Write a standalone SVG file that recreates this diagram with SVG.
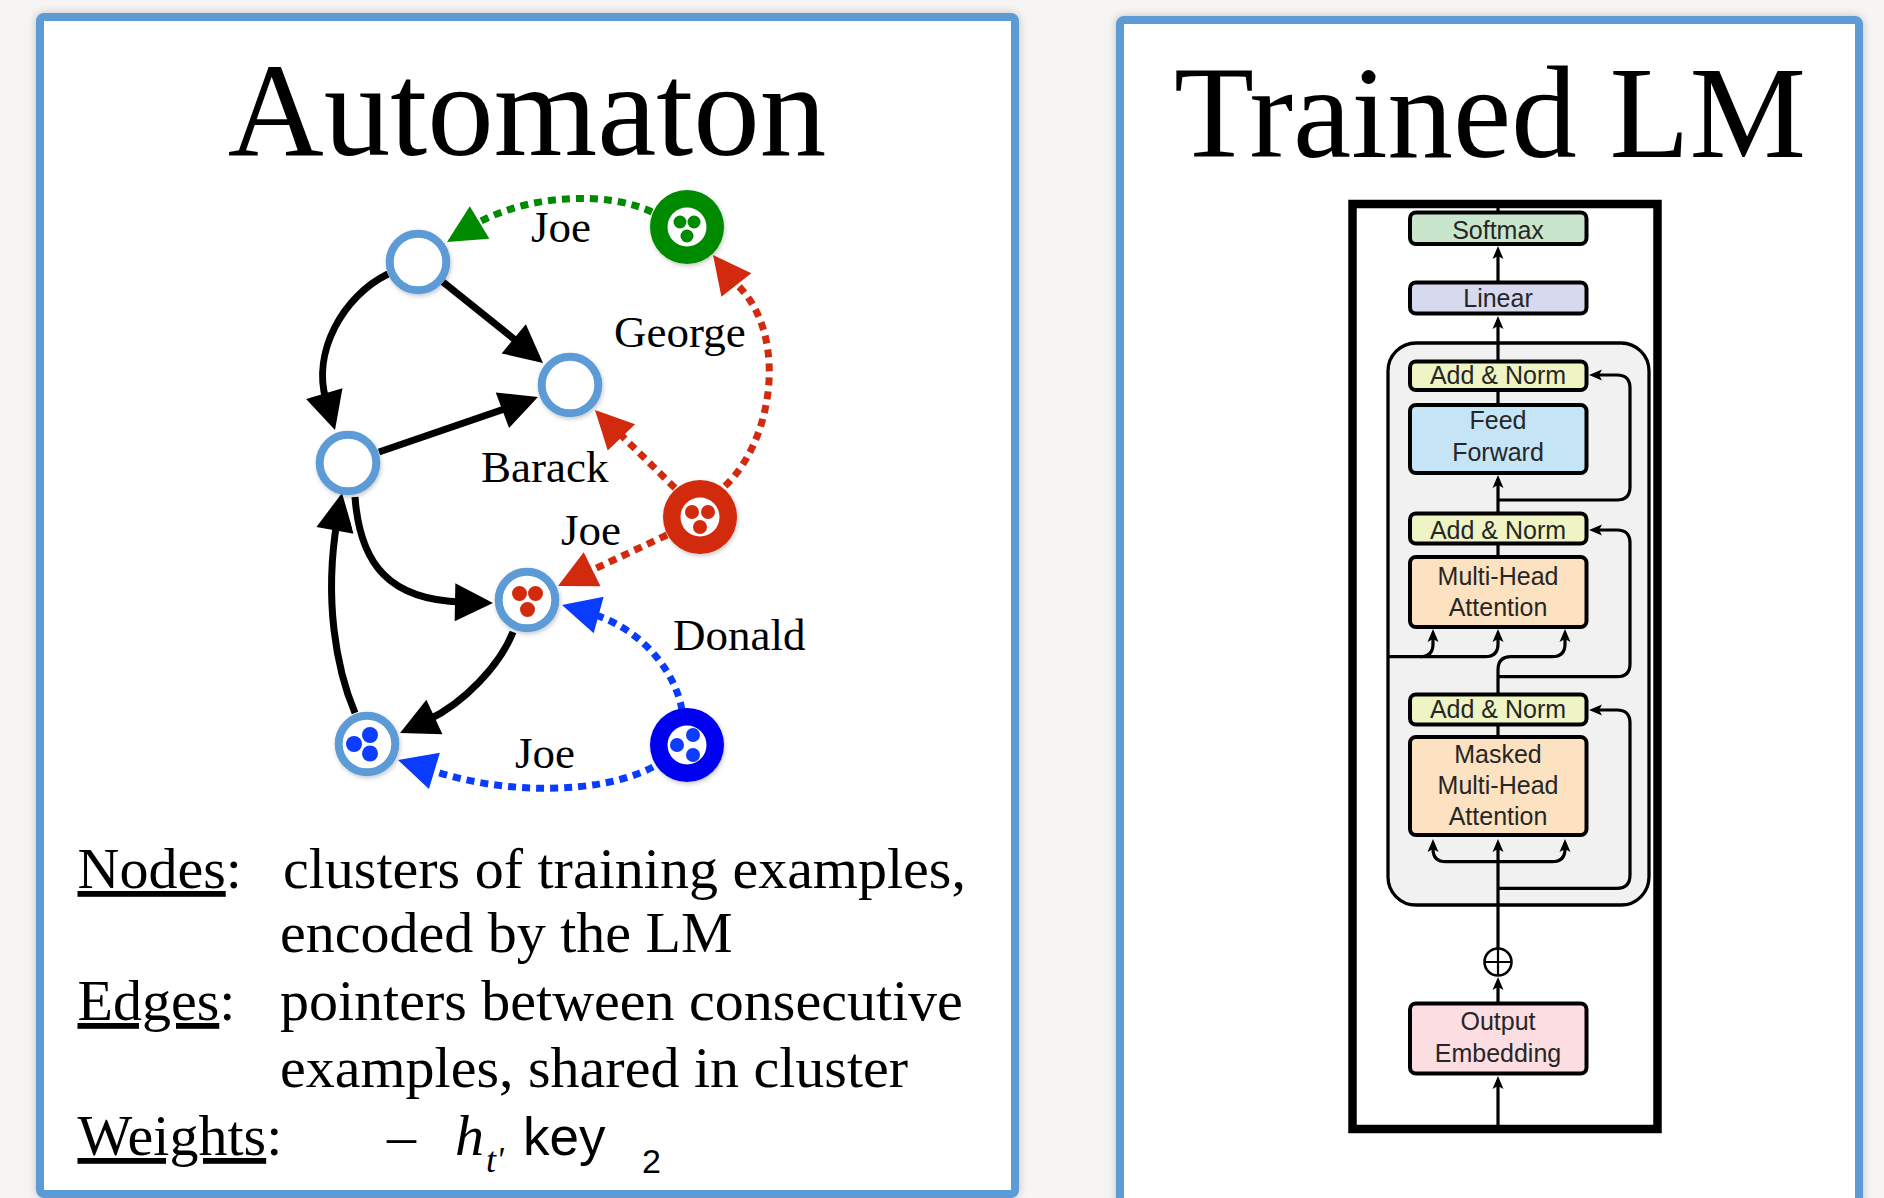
<svg xmlns="http://www.w3.org/2000/svg" xmlns:xlink="http://www.w3.org/1999/xlink" width="1884" height="1198" viewBox="0 0 1884 1198">
  <style>
    .panel { fill: #ffffff; stroke: #5b9bd5; stroke-width: 8; }
    .title { font-family: "Liberation Serif", "Times New Roman", serif; text-anchor: middle; fill: #000; }
    .lbl { font-family: "Liberation Serif", "Times New Roman", serif; font-size: 45px; fill: #000; }
    .body { font-family: "Liberation Serif", "Times New Roman", serif; font-size: 58px; fill: #000; }
    .ring { fill: #ffffff; stroke: #5b9bd5; stroke-width: 8; }
    .edge { fill: none; stroke: #000; stroke-width: 7; }
    .halo { fill: none; stroke: #fff; stroke-width: 15; }
    .dots { fill: none; stroke-width: 7; stroke-dasharray: 8 6; }
    .green { stroke: #008a00; }
    .red { stroke: #d12a0e; }
    .blue { stroke: #0a3cff; }
    .tbox { stroke: #000; stroke-width: 4; }
    .tline { fill: none; stroke: #000; stroke-width: 3.2; }
    .ttext { font-family: "Liberation Sans", Arial, sans-serif; font-size: 25px; fill: #262626; text-anchor: middle; }
  </style>
  <defs>
    <filter id="panelShadow" x="-5%" y="-5%" width="110%" height="110%">
      <feDropShadow dx="0" dy="0" stdDeviation="4" flood-color="#000" flood-opacity="0.22"/>
    </filter>
    <filter id="nodeShadow" x="-30%" y="-30%" width="160%" height="160%">
      <feDropShadow dx="1" dy="2" stdDeviation="2" flood-color="#000" flood-opacity="0.22"/>
    </filter>
    <!-- big triangular head, tip at origin pointing along +x -->
    <path id="head" d="M0,0 L-38,-19 L-38,19 z"/>
    <!-- small concave head, tip at origin pointing up -->
    <path id="tip" d="M0,0 L-5.5,13 L0,10 L5.5,13 z"/>
  </defs>

  <rect x="0" y="0" width="1884" height="1198" fill="#f6f5f3"/>

  <!-- panels -->
  <g id="panel-automaton">
    <rect class="panel" x="40" y="17" width="975" height="1177" rx="4" filter="url(#panelShadow)"/>
    <text class="title" x="527" y="155" font-size="133">Automaton</text>
  </g>
  <g id="panel-lm">
    <rect class="panel" x="1120" y="20" width="739" height="1200" rx="4" filter="url(#panelShadow)"/>
    <text class="title" x="1490" y="157" font-size="131">Trained LM</text>
  </g>

  <!-- automaton connectors -->
  <g id="connectors">
    <!-- black transitions -->
    <path class="edge" d="M443,282 L524,347"/>
    <use href="#head" fill="#000" transform="translate(543,363) rotate(39.6)"/>
    <path class="edge" d="M388,274 C343,296 312,352 326,400"/>
    <use href="#head" fill="#000" transform="translate(335,430) rotate(73.6)"/>
    <path class="edge" d="M379,452 L510,407"/>
    <use href="#head" fill="#000" transform="translate(538,397) rotate(-20.5)"/>
    <path class="edge" d="M355,713 C336,668 324,600 337,521"/>
    <use href="#head" fill="#000" transform="translate(342,493) rotate(-79.6)"/>
    <path class="halo" d="M356,503 C361,565 390,600 462,602"/>
    <path class="edge" d="M355,497 C360,565 390,600 462,602"/>
    <use href="#head" fill="#000" transform="translate(493,603) rotate(1)"/>
    <path class="edge" d="M513,632 C500,665 464,703 428,720"/>
    <use href="#head" fill="#000" transform="translate(400,733) rotate(155)"/>

    <!-- dotted pointers -->
    <path class="dots green" d="M652,212 C610,192 530,192 472,226"/>
    <use href="#head" fill="#008a00" transform="translate(447,242) rotate(149)"/>
    <path class="dots red" d="M725,486 C774,440 790,330 733,281"/>
    <use href="#head" fill="#d12a0e" transform="translate(713,255) rotate(-128)"/>
    <path class="dots red" d="M675,488 L618,432"/>
    <use href="#head" fill="#d12a0e" transform="translate(595,410) rotate(-134)"/>
    <path class="dots red" d="M667,535 L586,573"/>
    <use href="#head" fill="#d12a0e" transform="translate(558,586) rotate(153.8)"/>
    <path class="dots blue" d="M682,710 C675,670 640,628 592,614"/>
    <use href="#head" fill="#0a3cff" transform="translate(562,605) rotate(-164.8)"/>
    <path class="dots blue" d="M653,767 C600,795 500,795 428,769"/>
    <use href="#head" fill="#0a3cff" transform="translate(398,760) rotate(-163.3)"/>

    <!-- pointer labels -->
    <text class="lbl" x="531" y="242">Joe</text>
    <text class="lbl" x="614" y="347">George</text>
    <text class="lbl" x="481" y="482">Barack</text>
    <text class="lbl" x="561" y="545">Joe</text>
    <text class="lbl" x="673" y="650">Donald</text>
    <text class="lbl" x="515" y="768">Joe</text>
  </g>

  <!-- automaton states -->
  <g id="node-a" filter="url(#nodeShadow)">
    <circle class="ring" cx="418" cy="262" r="28.3"/>
  </g>
  <g id="node-b" filter="url(#nodeShadow)">
    <circle class="ring" cx="570" cy="385" r="28.3"/>
  </g>
  <g id="node-c" filter="url(#nodeShadow)">
    <circle class="ring" cx="348" cy="463" r="28.3"/>
  </g>
  <g id="node-d" filter="url(#nodeShadow)" fill="#d12a0e">
    <circle class="ring" cx="527" cy="600" r="28.3"/>
    <circle cx="519.5" cy="593.5" r="7.5"/>
    <circle cx="535.5" cy="593.5" r="7.5"/>
    <circle cx="527.5" cy="609.5" r="7.5"/>
  </g>
  <g id="node-e" filter="url(#nodeShadow)" fill="#0a3cff">
    <circle class="ring" cx="367" cy="744" r="28.3"/>
    <circle cx="354" cy="744" r="8"/>
    <circle cx="370" cy="735" r="8"/>
    <circle cx="370" cy="753.5" r="8"/>
  </g>
  <g id="node-green" filter="url(#nodeShadow)">
    <circle cx="687" cy="227" r="37" fill="#008a00"/>
    <circle cx="687" cy="227" r="19.5" fill="#fff"/>
    <g fill="#008a00">
      <circle cx="680" cy="222" r="6.5"/>
      <circle cx="694" cy="222" r="6.5"/>
      <circle cx="687" cy="236" r="6.5"/>
    </g>
  </g>
  <g id="node-red" filter="url(#nodeShadow)">
    <circle cx="700" cy="517" r="37" fill="#d12a0e"/>
    <circle cx="700" cy="517" r="19.5" fill="#fff"/>
    <g fill="#d12a0e">
      <circle cx="692" cy="512" r="7"/>
      <circle cx="708" cy="512" r="7"/>
      <circle cx="700" cy="527" r="7"/>
    </g>
  </g>
  <g id="node-blue" filter="url(#nodeShadow)">
    <circle cx="687" cy="745" r="37" fill="#0000f0"/>
    <circle cx="687" cy="745" r="19.5" fill="#fff"/>
    <g fill="#0a3cff">
      <circle cx="693" cy="735" r="7"/>
      <circle cx="677" cy="745" r="7"/>
      <circle cx="693" cy="755" r="7"/>
    </g>
  </g>

  <!-- legend -->
  <g id="legend" class="body">
    <text x="77.5" y="888"><tspan text-decoration="underline">Nodes</tspan>:</text>
    <text x="283" y="888">clusters of training examples,</text>
    <text x="280" y="952">encoded by the LM</text>
    <text x="77.5" y="1020"><tspan text-decoration="underline">Edges</tspan>:</text>
    <text x="280" y="1020">pointers between consecutive</text>
    <text x="280" y="1087">examples, shared in cluster</text>
    <text x="77.5" y="1155"><tspan text-decoration="underline">Weights</tspan>:</text>
    <text x="387" y="1155">–</text>
    <text x="455" y="1155" font-style="italic">h</text>
    <text x="486" y="1172" font-style="italic" font-size="36">t'</text>
    <text x="523" y="1155" font-family="Liberation Sans, Arial, sans-serif" font-size="53">key</text>
    <text x="642" y="1173" font-family="Liberation Sans, Arial, sans-serif" font-size="34">2</text>
  </g>

  <!-- transformer decoder -->
  <g id="lm-frame">
    <rect x="1352.5" y="204" width="305" height="925" fill="#fff" stroke="#000" stroke-width="8.5"/>
  </g>
  <g id="decoder-block">
    <rect x="1388" y="343" width="261" height="562" rx="28" fill="#f1f1f1" stroke="#000" stroke-width="3.3"/>
  </g>

  <g id="lm-connectors">
    <path class="tline" d="M1498,208 V213"/>
    <path class="tline" d="M1498,282 V250"/>
    <use href="#tip" transform="translate(1498,246)"/>
    <path class="tline" d="M1498,361 V320"/>
    <use href="#tip" transform="translate(1498,316)"/>
    <path class="tline" d="M1498,389 V405"/>
    <path class="tline" d="M1498,513 V479"/>
    <use href="#tip" transform="translate(1498,475)"/>
    <path class="tline" d="M1498,500 H1617 Q1630,500 1630,487 V388 Q1630,375 1617,375 H1594"/>
    <use href="#tip" transform="translate(1589,375) rotate(-90)"/>
    <path class="tline" d="M1498,543 V557"/>
    <path class="tline" d="M1388,656.7 H1420 Q1433,656.7 1433,644 V633"/>
    <use href="#tip" transform="translate(1433,629)"/>
    <path class="tline" d="M1420,656.7 H1485 Q1498,656.7 1498,644 V633"/>
    <use href="#tip" transform="translate(1498,629)"/>
    <path class="tline" d="M1498,694 V670 Q1498,656.7 1511,656.7 H1552 Q1565,656.7 1565,644 V633"/>
    <use href="#tip" transform="translate(1565,629)"/>
    <path class="tline" d="M1498,676.7 H1617 Q1630,676.7 1630,664 V543 Q1630,530 1617,530 H1594"/>
    <use href="#tip" transform="translate(1589,530) rotate(-90)"/>
    <path class="tline" d="M1498,724 V737"/>
    <path class="tline" d="M1498,948 V843"/>
    <use href="#tip" transform="translate(1498,839)"/>
    <path class="tline" d="M1498,861.7 H1446 Q1433,861.7 1433,849 V843"/>
    <use href="#tip" transform="translate(1433,839)"/>
    <path class="tline" d="M1498,861.7 H1552 Q1565,861.7 1565,849 V843"/>
    <use href="#tip" transform="translate(1565,839)"/>
    <path class="tline" d="M1498,888.3 H1617 Q1630,888.3 1630,875 V723 Q1630,710 1617,710 H1594"/>
    <use href="#tip" transform="translate(1589,710) rotate(-90)"/>
    <path class="tline" d="M1498,1003 V981"/>
    <use href="#tip" transform="translate(1498,977)"/>
    <path class="tline" d="M1498,1125 V1080"/>
    <use href="#tip" transform="translate(1498,1076)"/>
  </g>

  <g id="lm-softmax">
    <rect class="tbox" x="1410" y="212.5" width="176.5" height="31.5" rx="6" fill="#c9e6cd"/>
    <text class="ttext" x="1498" y="239">Softmax</text>
  </g>
  <g id="lm-linear">
    <rect class="tbox" x="1410" y="282.5" width="176.5" height="31" rx="6" fill="#d7d9ef"/>
    <text class="ttext" x="1498" y="307">Linear</text>
  </g>
  <g id="lm-addnorm-ff">
    <rect class="tbox" x="1410" y="361.5" width="176.5" height="28.5" rx="6" fill="#eff4c4"/>
    <text class="ttext" x="1498" y="384">Add &amp; Norm</text>
  </g>
  <g id="lm-feedforward">
    <rect class="tbox" x="1410" y="405" width="176.5" height="68" rx="6" fill="#c5e4f6"/>
    <text class="ttext" x="1498" y="429">Feed</text>
    <text class="ttext" x="1498" y="460.5">Forward</text>
  </g>
  <g id="lm-addnorm-mha">
    <rect class="tbox" x="1410" y="513.5" width="176.5" height="30" rx="6" fill="#eff4c4"/>
    <text class="ttext" x="1498" y="539">Add &amp; Norm</text>
  </g>
  <g id="lm-mha">
    <rect class="tbox" x="1410" y="557" width="176.5" height="70" rx="6" fill="#fce2c0"/>
    <text class="ttext" x="1498" y="585">Multi-Head</text>
    <text class="ttext" x="1498" y="616">Attention</text>
  </g>
  <g id="lm-addnorm-masked">
    <rect class="tbox" x="1410" y="694.5" width="176.5" height="30" rx="6" fill="#eff4c4"/>
    <text class="ttext" x="1498" y="718">Add &amp; Norm</text>
  </g>
  <g id="lm-masked-mha">
    <rect class="tbox" x="1410" y="737" width="176.5" height="98" rx="6" fill="#fce2c0"/>
    <text class="ttext" x="1498" y="763">Masked</text>
    <text class="ttext" x="1498" y="794">Multi-Head</text>
    <text class="ttext" x="1498" y="825">Attention</text>
  </g>
  <g id="lm-positional-add">
    <circle cx="1498" cy="962" r="13.5" fill="#fff" stroke="#000" stroke-width="2.6"/>
    <path d="M1485,962 H1511 M1498,949 V975" stroke="#000" stroke-width="2.2"/>
  </g>
  <g id="lm-embedding">
    <rect class="tbox" x="1410" y="1003.5" width="176.5" height="70" rx="6" fill="#fbdde2"/>
    <text class="ttext" x="1498" y="1030">Output</text>
    <text class="ttext" x="1498" y="1062">Embedding</text>
  </g>
</svg>
